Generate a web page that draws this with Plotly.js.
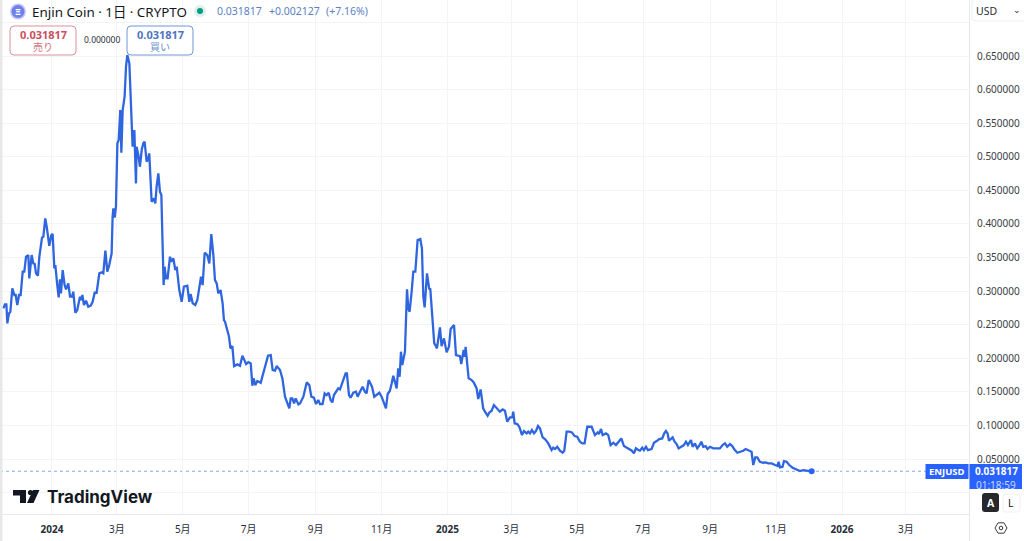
<!DOCTYPE html>
<html><head><meta charset="utf-8">
<script src="https://cdn.plot.ly/plotly-3.0.1.min.js"></script>
<style>html,body{margin:0;padding:0;background:#fff;overflow:hidden}#c{width:1024px;height:541px}</style>
</head><body><div id="c"></div>
<script>
// Days since 2024-01-01 and the close price
const dayOffsets = [-45,-43.5,-42.2,-41.3,-39.8,-38.5,-36.7,-34.8,-33.6,-32.1,-30.5,-29,-27.1,-25.6,-24,-21.9,-21,-18.8,-17.3,-16,-14.8,-13,-11.7,-9.2,-8,-6.2,-4.9,-2.5,-0.6,0.6,2.2,3.1,4.9,6.2,7.4,8.3,9.9,11.7,13,15.1,16.7,18.5,19.7,21.6,23.4,25.9,26.8,28.1,29.6,31.5,33.6,35.8,37.6,39.5,41.3,42.6,43.8,46,47.5,49.4,51.2,53,55.2,56.1,56.8,58,59.2,60.5,61.7,63.2,64.2,65.4,67.2,68.5,69.7,71.6,72.8,74.6,76.2,77.7,78.3,79.9,81.4,83,84.5,85.7,87.6,89.1,90,92.2,94.4,95.6,96.8,98.4,99.9,101.2,102.4,103.3,104.2,105.5,107,109.2,110.4,112.3,114.1,115.4,117.8,120,122.1,125.2,127.1,128.3,130.2,132.6,134.5,136.3,137.9,139.4,141.3,143.7,145.6,147.4,149.3,150.8,152.4,153.9,156,157.9,159.1,
160.1,162.3,163.8,165.1,166.9,168.5,170,171.5,174,176.2,178,179.6,181.7,183.9,185.4,186.6,188.2,190,193.1,195.6,198.7,199.9,202.4,204.2,206.4,207.9,211,213.2,215.6,219.6,220.9,222.4,224,225.5,228,229.5,232.6,234.1,235.7,
238.1,240,242.4,244.3,246.4,248,250.4,252.3,254.1,256,257.8,259.4,260.9,263.4,264.9,266.5,268,270.2,271.7,272.9,274.8,276.3,278.8,281.3,282.8,285,287.4,289.6,291.1,293,294.8,296.1,298.2,301,302.9,305,307.2,309,310.6,312.7,314.3,315.8,317.7,318.9,320.4,321.7,322.9,324.1,326.6,327.5,328.5,329.7,330.9,332.8,334.3,336.2,338.3,340.8,342.3,343.6,344.8,347,349.1,350,351.6,353.7,354.7,356.2,359,360.5,362.7,363.9,365.2,367.3,368.9,372,373.8,377.5,378.7,380.9,382.1,382.7,385.5,388.3,390.4,392.9,394.4,396.6,399,400.6,403.1,404.6,406.8,408.9,411.4,
414.5,417,419.1,421.3,423.8,425.9,426.8,428.1,430.5,432.4,434.9,436.7,439.2,440.7,442.3,444.1,446,447.8,449.7,451.5,454,456.4,459.2,462.3,463.8,465.4,467.5,470,472.5,474,476.2,478.6,481.1,483.6,486,488.5,490.7,492.8,495.3,497.2,499.3,502.4,504.9,506.1,508,509.5,512.6,514.7,516.9,519.4,521.8,524.3,526.8,529.2,531.7,534.8,536.6,538.5,540.3,542.5,544,546.2,547.7,549.6,551.4,554.8,557,559.5,561.9,564.7,566.5,568.1,569.6,570.9,572.4,574.3,576.1,578,579.8,582.6,584.7,586.6,588.4,591.2,592.8,594.9,597.1,598.9,600.8,602.6,604.8,606.6,608.8,611.9,615,618,620.5,622.7,624.8,627.3,629.5,631.3,634.1,637.2,639.6,641.8,644.6,647.3,648.9,650.7,652.6,655,658.1,660.3,662.8,665.9,669,671.4,672.3,673.6,676,677.3,679.7,682.2,685.3,689,692.1,695.1,698.2,702.9];
const closePrices = [.2743,.2803,.2803,.2520,.2668,.2693,.3041,.2942,.2942,.2793,.2942,.2942,.3289,.3289,.3512,.3537,.3190,.3537,.3413,.3403,.3264,.3229,.3512,.3800,.3810,.4083,.3959,.3676,.3835,.3850,.3339,.3388,.3090,.2907,.3175,.2966,.3314,.3090,.3026,.3115,.2917,.2917,.2991,.2678,.2718,.2917,.2867,.2942,.2793,.2857,.2768,.2783,.2842,.2976,.2976,.3125,.3264,.3279,.3264,.3602,.3289,.3388,.3562,.4108,.4232,.4093,.4257,.5200,.5249,.5696,.5061,.5696,.5894,.6341,.6515,.6391,.5894,.5150,.5398,.4604,.5150,.5026,.4852,.5100,.5200,.5224,.4927,.4976,.5051,.4331,.4381,.4306,.4554,.4753,.4480,.4430,.3661,.3090,.3363,.3190,.3190,.3512,.3438,.3487,.3314,.3363,.3016,.2842,.3066,.3080,.2842,.2956,.2818,.2793,.2867,.3066,.3214,.3090,.3572,.3537,.3413,.3850,.3537,.3165,.3115,.2966,.3016,.2818,.2569,
.2544,.2395,.2321,.2147,.2182,.1884,.1899,.1909,.1889,.2038,.1973,.1914,.1944,.1924,.1591,.1701,.1601,.1661,.1636,.1800,.1983,.2038,.2048,.1825,.1815,.1884,.1825,.1701,.1428,.1254,.1403,.1403,.1328,.1403,.1313,.1328,.1428,.1527,.1641,
.1601,.1428,.1413,.1319,.1378,.1319,.1319,.1477,.1453,.1487,.1378,.1343,.1453,.1517,.1552,.1537,.1602,.1726,.1775,.1775,.1453,.1413,.1487,.1502,.1428,.1502,.1577,.1502,.1477,.1676,.1626,.1577,.1428,.1468,.1487,.1428,.1314,.1254,.1468,.1517,.1626,.1741,.1626,.1552,.1850,.1726,.2098,.1899,.2098,.2420,.3026,.2743,.2693,.2991,.3289,.3289,.3760,.3775,.3636,.2917,.2758,.3264,.3026,.3041,.2668,.2222,.2197,.2147,.2460,.2182,.2296,.2182,.2088,.2172,.2435,.2495,.2048,.2033,.1914,.2123,.2023,.2172,.1701,.1676,.1636,.1552,.1393,.1537,.1254,.1205,.1145,.1190,.1219,.1304,.1254,
.1205,.1239,.1219,.1056,.1120,.1120,.1205,.1031,.1021,.0981,.0857,.0917,.0882,.0907,.0882,.0932,.0882,.0917,.0991,.0956,.0822,.0793,.0733,.0634,.0669,.0649,.0683,.0624,.0594,.0624,.0907,.0907,.0897,.0842,.0832,.0758,.0733,.0733,.0981,.0981,.0981,.0857,.0897,.0872,.0947,.0857,.0882,.0857,.0708,.0743,.0708,.0758,.0807,.0693,.0673,.0649,.0624,.0584,.0659,.0634,.0624,.0669,.0634,.0683,.0634,.0649,.0743,.0768,.0798,.0807,.0882,.0917,.0882,.0773,.0798,.0822,.0758,.0723,.0659,.0693,.0708,.0758,.0708,.0783,.0683,.0733,.0659,.0698,.0758,.0683,.0693,.0649,.0683,.0659,.0659,.0659,.0708,.0733,.0683,.0723,.0693,.0644,.0594,.0609,.0624,.0649,.0634,.0609,.0411,.0525,.0525,.0460,.0445,.0450,.0435,.0435,.0411,.0396,.0460,.0376,.0386,.0470,.0460,.0411,.0371,.0346,.0321,.0336,.0326,.031817];
const xTickDates = ['2024-01-01','2024-03-01','2024-05-01','2024-07-01','2024-09-01','2024-11-01','2025-01-01','2025-03-01','2025-05-01','2025-07-01','2025-09-01','2025-11-01','2026-01-01','2026-03-01'];
const xTickLabels = ['<b>2024</b>','3月','5月','7月','9月','11月','<b>2025</b>','3月','5月','7月','9月','11月','<b>2026</b>','3月'];
const yTickValues = [0,.05,.1,.15,.2,.25,.3,.35,.4,.45,.5,.55,.6,.65,.7];
const yTickLabels = ['','0.050000','0.100000','0.150000','0.200000','0.250000','0.300000','0.350000','0.400000','0.450000','0.500000','0.550000','0.600000','0.650000',''];
const lastPrice = 0.031817;
const symbolName = 'ENJUSD';

const W=1024,H=541,PW=969,PH=514;
const fx=x=>x/PW, fy=y=>1-y/PH;
const toDate=d=>new Date(Date.UTC(2024,0,1)+d*864e5).toISOString().slice(0,19);
const dates=dayOffsets.map(toDate);
const FONT='"Noto Sans","Noto Sans CJK JP",sans-serif';

function rrect(x0,y0,x1,y1,r){
  const X=fx,Y=fy;
  return `M${X(x0+r)},${Y(y0)}L${X(x1-r)},${Y(y0)}Q${X(x1)},${Y(y0)} ${X(x1)},${Y(y0+r)}L${X(x1)},${Y(y1-r)}Q${X(x1)},${Y(y1)} ${X(x1-r)},${Y(y1)}L${X(x0+r)},${Y(y1)}Q${X(x0)},${Y(y1)} ${X(x0)},${Y(y1-r)}L${X(x0)},${Y(y0+r)}Q${X(x0)},${Y(y0)} ${X(x0+r)},${Y(y0)}Z`;
}
function poly(pts){return 'M'+pts.map(p=>fx(p[0])+','+fy(p[1])).join('L')+'Z';}
const pshape=(path,fill,line,lw)=>({type:'path',xref:'paper',yref:'paper',path,fillcolor:fill||'rgba(0,0,0,0)',line:{color:line||'rgba(0,0,0,0)',width:lw||0},layer:'above'});
const box=(x0,y0,x1,y1,fill)=>({type:'rect',xref:'paper',yref:'paper',x0:fx(x0),x1:fx(x1),y0:fy(y0),y1:fy(y1),fillcolor:fill,line:{width:0},layer:'above'});
const circ=(cx,cy,r,fill,line,lw)=>({type:'circle',xref:'paper',yref:'paper',x0:fx(cx-r),x1:fx(cx+r),y0:fy(cy-r),y1:fy(cy+r),fillcolor:fill,line:{color:line||'rgba(0,0,0,0)',width:lw||0},layer:'above'});
const note=(x,y,text,size,color,anchor,extra)=>Object.assign({xref:'paper',yref:'paper',x:fx(x),y:fy(y),text,showarrow:false,xanchor:anchor||'left',yanchor:'middle',borderpad:0,font:{family:FONT,size,color}},extra||{});

const shapes=[
  {type:'line',xref:'paper',yref:'y',x0:0,x1:fx(926),y0:lastPrice,y1:lastPrice,line:{color:'#8aa8ec',width:1,dash:'dot'},layer:'below'},
  box(0,0,2.5,541,'#e7e8ea'),
  box(969,0,969.8,541,'#e0e3eb'),
  circ(18,11.5,8,'#c9c6f5'),
  circ(18,11.5,6.5,'#6f80ea'),
  circ(200,11,6,'#dcefec'),
  circ(200,11,3,'#089981'),
  pshape(rrect(10,26,76,55,4),'#ffffff','#d9929b',1),
  pshape(rrect(127,26,193,55,4),'#ffffff','#7396d4',1),
  pshape(rrect(972,-1,1030,21,4),'#ffffff','#eceef2',1),
  box(925.5,464,968.5,479,'#2962ff'),
  box(969.5,464,1022,489,'#2962ff'),
  pshape(rrect(982,493,999,512,3),'#26282c'),
  pshape(rrect(1003,494,1020,512,3),'#ffffff','#eef0f3',1),
  pshape(poly([[995,528],[998,522.8],[1004,522.8],[1007,528],[1004,533.2],[998,533.2]]),'#ffffff','#3a3d45',1),
  circ(1001,528,1.8,'#ffffff','#3a3d45',1),
  pshape(poly([[13,490],[26,490],[26,503],[20,503],[20,495.5],[13,495.5]]),'#131722'),
  circ(30.5,492.5,2.6,'#131722'),
  pshape(poly([[33,490],[39.5,490],[33.5,503],[27,503]]),'#131722')
];

const annotations=[
  note(18,11.5,'<b>Ξ</b>',9.5,'#ffffff','center'),
  note(30.5,11.5,'Enjin Coin · 1日 · CRYPTO',13.4,'#131722'),
  note(216,11,'0.031817',10.5,'#5a7fc2'),
  note(268,11,'+0.002127',10.5,'#5a7fc2'),
  note(325,11,'(+7.16%)',10.5,'#5a7fc2'),
  note(43,34.5,'<b>0.031817</b>',11,'#c9505c','center'),
  note(43,47,'売り',10,'#d4747e','center'),
  note(102,40,'0.000000',8.5,'#2a2e39','center'),
  note(160,34.5,'<b>0.031817</b>',11,'#4f74c4','center'),
  note(160,47,'買い',10,'#6d8fcf','center'),
  note(975,11,'USD',10.5,'#2a2e39'),
  note(1017,9,'⌄',9,'#2a2e39','center'),
  note(947,471.5,'<b>'+symbolName+'</b>',9.5,'#ffffff','center'),
  note(996,470.8,'<b>0.031817</b>',10,'#ffffff','center'),
  note(996,485,'01:18:59',10,'#c9d6ff','center'),
  note(990.5,502.5,'<b>A</b>',10.5,'#ffffff','center'),
  note(1011.5,502.5,'L',10.5,'#131722','center'),
  note(46,497,'<b>TradingView</b>',17,'#131722','left',{font:{family:'Inter,"Noto Sans",sans-serif',size:17,color:'#131722'}})
];

const traces=[
 {type:'scatter',mode:'lines',x:dates,y:closePrices,line:{color:'#2f66e0',width:2.3,shape:'linear'},hoverinfo:'skip',showlegend:false},
 {type:'scatter',mode:'markers',x:[dates[dates.length-1]],y:[closePrices[closePrices.length-1]],marker:{color:'#2962ff',size:6},hoverinfo:'skip',showlegend:false}
];
const layout={
 width:W,height:H,margin:{l:0,r:W-PW,t:0,b:H-PH,pad:0},paper_bgcolor:'#fff',plot_bgcolor:'#fff',showlegend:false,
 font:{family:FONT,size:10,color:'#3a3d45'},
 xaxis:{type:'date',range:[toDate(-48.1),toDate(848.5)],tickmode:'array',tickvals:xTickDates,ticktext:xTickLabels,showgrid:true,gridcolor:'#f3f4f7',gridwidth:1,zeroline:false,showline:true,linecolor:'#e6e8ee',ticks:'outside',ticklen:6,tickcolor:'rgba(0,0,0,0)',tickfont:{family:FONT,size:10,color:'#2a2e39'}},
 yaxis:{side:'right',range:[-0.0318,0.7334],tickmode:'array',tickvals:yTickValues,ticktext:yTickLabels,showgrid:true,gridcolor:'#f3f4f7',gridwidth:1,zeroline:false,showline:false,ticks:'outside',ticklen:5,tickcolor:'rgba(0,0,0,0)',tickfont:{family:FONT,size:10,color:'#3a3d45'}},
 shapes,annotations
};
Plotly.newPlot('c',traces,layout,{staticPlot:true,displayModeBar:false});
</script></body></html>
